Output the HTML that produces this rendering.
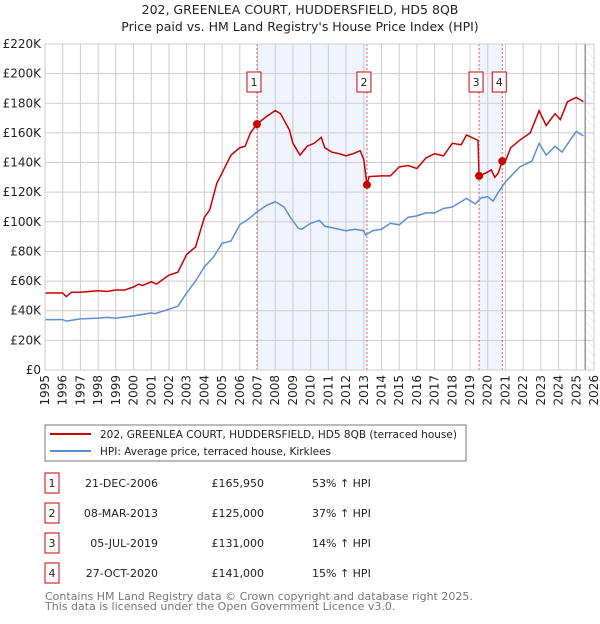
<!DOCTYPE html>
<html><head><meta charset="utf-8"><style>
body{margin:0;background:#fff;font-family:"DejaVu Sans","Liberation Sans",sans-serif;}
svg text{font-family:"DejaVu Sans","Liberation Sans",sans-serif;}
</style></head><body>
<svg id="c" width="600" height="620" xmlns="http://www.w3.org/2000/svg">
<text x="300" y="14" font-size="12.5" text-anchor="middle" fill="#222">202, GREENLEA COURT, HUDDERSFIELD, HD5 8QB</text>
<text x="300" y="31" font-size="12.5" text-anchor="middle" fill="#222">Price paid vs. HM Land Registry's House Price Index (HPI)</text>
<defs><pattern id="h" width="6" height="6" patternUnits="userSpaceOnUse" patternTransform="rotate(-45)"><line x1="0" y1="0" x2="0" y2="6" stroke="#ddd" stroke-width="1"/></pattern></defs>
<g id="plot"></g>
<rect x="45" y="425" width="421" height="36" fill="#fff" stroke="#777"/>
<line x1="50" y1="434" x2="91" y2="434" stroke="#cc0000" stroke-width="2"/>
<text x="100" y="438" font-size="10.5" fill="#222">202, GREENLEA COURT, HUDDERSFIELD, HD5 8QB (terraced house)</text>
<line x1="50" y1="451" x2="91" y2="451" stroke="#5b8fd4" stroke-width="2"/>
<text x="100" y="455" font-size="10.5" fill="#222">HPI: Average price, terraced house, Kirklees</text>
<g id="tbl"></g>
<text x="45" y="600" font-size="11" fill="#777">Contains HM Land Registry data © Crown copyright and database right 2025.</text>
<text x="45" y="610" font-size="11" fill="#777">This data is licensed under the Open Government Licence v3.0.</text>
</svg>
<script>
const yTicks=[0,20,40,60,80,100,120,140,160,180,200,220];
const xYears=[1995,1996,1997,1998,1999,2000,2001,2002,2003,2004,2005,2006,2007,2008,2009,2010,2011,2012,2013,2014,2015,2016,2017,2018,2019,2020,2021,2022,2023,2024,2025,2026];
const saleNums=["1","2","3","4"];
const saleYears=[2006.97,2013.18,2019.51,2020.82];
const saleValues=[165.95,125,131,141];
const saleDates=["21-DEC-2006","08-MAR-2013","05-JUL-2019","27-OCT-2020"];
const salePrices=["£165,950","£125,000","£131,000","£141,000"];
const saleHpi=["53% ↑ HPI","37% ↑ HPI","14% ↑ HPI","15% ↑ HPI"];
const redYears=[1995,1996,1996.2,1996.5,1997,1997.5,1998,1998.5,1999,1999.5,2000,2000.3,2000.5,2001,2001.3,2002,2002.5,2003,2003.5,2003.8,2004,2004.3,2004.7,2005,2005.5,2006,2006.3,2006.6,2006.97,2007.5,2008,2008.3,2008.8,2009,2009.4,2009.8,2010.2,2010.6,2010.8,2011.2,2011.6,2012,2012.4,2012.8,2013.0,2013.18,2013.3,2014,2014.5,2015,2015.5,2016,2016.5,2017,2017.5,2018,2018.5,2018.8,2019.45,2019.51,2019.9,2020.2,2020.4,2020.6,2020.82,2021.0,2021.3,2021.8,2022.4,2022.9,2023.3,2023.8,2024.1,2024.5,2025,2025.4];
const redValues=[52,52,49.5,52.5,52.5,53,53.5,53,54,54,56,58,57,59.5,58,64,66,78,83,95,103,108,126,133,145,150,151,160,166,171,175,173,162,153,145,151,153,157,150,147,146,144.5,146,148,142,125,130.5,131,131,137,138,136,143,146,144.5,153,152,158.6,155,131,133,135,130,133,141,141,150,155,160,175,165,173,169,181,184,181];
const hpiYears=[1995,1996,1996.2,1997,1998,1998.5,1999,2000,2001,2001.2,2002,2002.5,2003,2003.5,2004,2004.5,2005,2005.5,2006,2006.5,2007,2007.5,2008,2008.5,2008.8,2009.3,2009.5,2010,2010.5,2010.8,2011.2,2011.6,2012,2012.5,2013.0,2013.1,2013.5,2014,2014.5,2015,2015.5,2016,2016.5,2017,2017.5,2018,2018.8,2019.3,2019.6,2020,2020.3,2020.6,2021.0,2021.8,2022.5,2022.9,2023.3,2023.8,2024.2,2024.7,2025,2025.4];
const hpiValues=[34,34,33,34.5,35,35.5,35,36.5,38.5,38,41,43,52,60,69.7,76,85.5,87,98,102,107,111,113.6,110,104,95.6,95,99,101,97,96,95,94,95,94,91,94,95,99,98,103,104,106,106,109,110,115.8,112,116,117,114,120,127,137,141,153,145,151,147,156,161,158];
const L=45,R=594,T=44,B=370,Y0=1995,Y1=2026,VMAX=220;
const xs=y=>L+(y-Y0)*(R-L)/(Y1-Y0);
const ys=v=>B-v*(B-T)/VMAX;
const NS="http://www.w3.org/2000/svg";
const plot=document.getElementById('plot');
function mk(tag,attrs,parent){const e=document.createElementNS(NS,tag);for(const k in attrs)e.setAttribute(k,attrs[k]);(parent||plot).appendChild(e);return e;}
let e;
e=mk('rect',{x:xs(saleYears[0]),y:T,width:xs(saleYears[1])-xs(saleYears[0]),height:B-T,fill:'#f0f4fd'});


e=mk('rect',{x:xs(saleYears[2]),y:T,width:xs(saleYears[3])-xs(saleYears[2]),height:B-T,fill:'#f0f4fd'});


e=mk('rect',{x:xs(2025.5),y:T,width:R-xs(2025.5),height:B-T,fill:'url(#h)'});


yTicks.forEach(v=>{
 e=mk('line',{x1:L,x2:R,y1:ys(v),y2:ys(v),stroke:'#ccc','stroke-width':1});
 
 
 e=mk('text',{x:L-4,y:ys(v)+4,'font-size':12,'text-anchor':'end',fill:'#222'});
 e.textContent=v===0?'£0':'£'+v+'K';
 
 
});
xYears.forEach(y=>{
 e=mk('line',{x1:xs(y),x2:xs(y),y1:T,y2:B,stroke:'#ccc','stroke-width':1});
 
 
 e=mk('text',{x:0,y:0,'font-size':12,'text-anchor':'end',fill:'#222',transform:`translate(${xs(y)+4},${B+5}) rotate(-90)`});
 e.textContent=y;
 
 
});
e=mk('line',{x1:xs(2025.5),x2:xs(2025.5),y1:T,y2:B,stroke:'#666','stroke-width':1});


saleYears.forEach((y,i)=>{
 e=mk('line',{x1:xs(y),x2:xs(y),y1:T,y2:B,stroke:'#e06060','stroke-width':1,'stroke-dasharray':'2,2'});
 
 
});
e=mk('polyline',{points:hpiYears.map((y,i)=>xs(y)+','+ys(hpiValues[i])).join(' '),fill:'none',stroke:'#5b8fd4','stroke-width':1.5});


e=mk('polyline',{points:redYears.map((y,i)=>xs(y)+','+ys(redValues[i])).join(' '),fill:'none',stroke:'#cc0000','stroke-width':1.5});


saleYears.forEach((y,i)=>{
 e=mk('circle',{cx:xs(y),cy:ys(saleValues[i]),r:4,fill:'#cc0000'});
 
 
 const cx=xs(y)-3;
 e=mk('rect',{x:cx-7,y:72,width:14,height:20,fill:'#fff',stroke:'#cc0000','stroke-width':1});
 
 
 e=mk('text',{x:cx,y:86,'font-size':11,'text-anchor':'middle',fill:'#222'});
 e.textContent=saleNums[i];
 
 
});
e=mk('rect',{x:L,y:T,width:R-L,height:B-T,fill:'none',stroke:'#ccc'});
const tbl=document.getElementById('tbl');
saleNums.forEach((n,i)=>{
 const cy=483+i*30;
 e=mk('rect',{x:45,y:cy-10,width:14,height:20,fill:'#fff',stroke:'#cc0000'},tbl);
 
 
 e=mk('text',{x:52,y:cy+4,'font-size':11,'text-anchor':'middle',fill:'#222'},tbl);e.textContent=n;
 
 
 e=mk('text',{x:158,y:cy+4,'font-size':11,'text-anchor':'end',fill:'#222'},tbl);e.textContent=saleDates[i];
 
 
 e=mk('text',{x:264,y:cy+4,'font-size':11,'text-anchor':'end',fill:'#222'},tbl);e.textContent=salePrices[i];
 
 
 e=mk('text',{x:312,y:cy+4,'font-size':11,fill:'#222'},tbl);e.textContent=saleHpi[i];
 
 
});
</script>
</body></html>
